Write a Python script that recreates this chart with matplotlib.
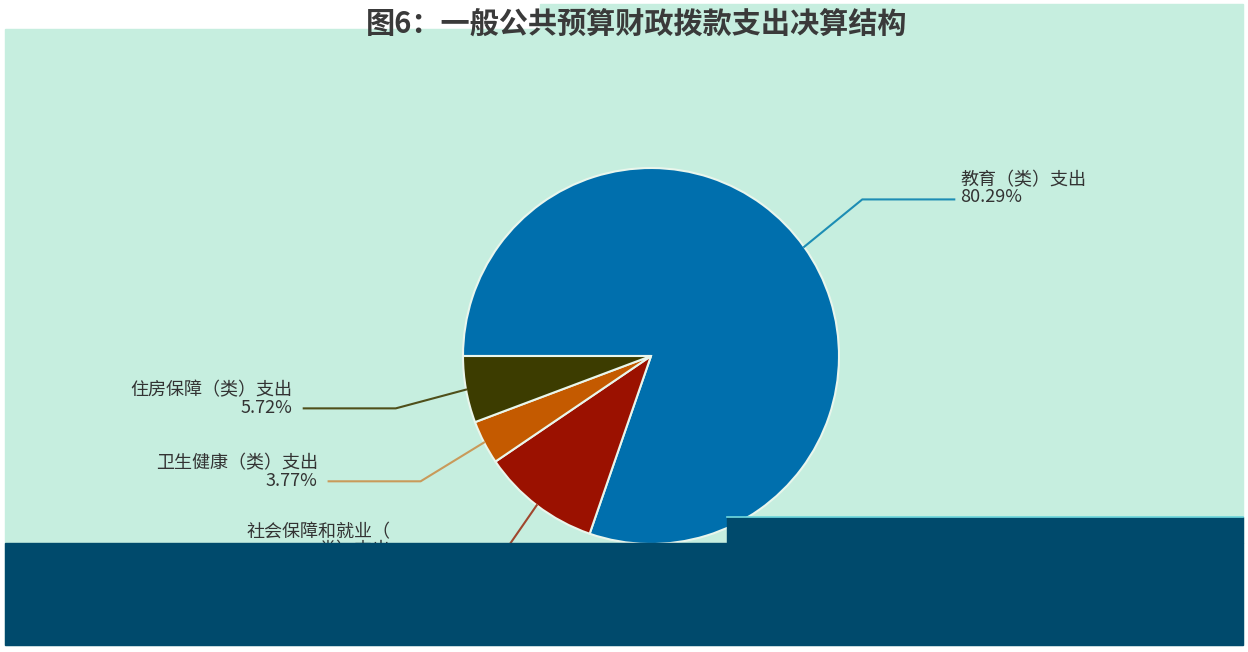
import numpy as np
import matplotlib
matplotlib.use("Agg")
import matplotlib.pyplot as plt
from matplotlib.patches import Rectangle

plt.rcParams['font.family'] = ['Noto Sans CJK SC', 'DejaVu Sans']

# data (percent of total)
labels = ['教育（类）支出', '社会保障和就业（\n类）支出', '卫生健康（类）支出', '住房保障（类）支出']
values = [80.29, 10.22, 3.77, 5.72]
colors = ['#006fad', '#9b1100', '#c45a00', '#3c3c00']
line_colors = ['#1d8db4', '#a0472e', '#c99a5a', '#4f4f1a']
title = '图6：一般公共预算财政拨款支出决算结构'

W, H = 1248, 652
BG = '#c6eedf'


def main():
    fig = plt.figure(figsize=(W / 100, H / 100), dpi=100, facecolor='white')
    ax = fig.add_axes([0, 0, 1, 1])

    # mint canvas
    ax.add_patch(Rectangle((5, H - 645), 1238, 616, color=BG, zorder=0))
    ax.add_patch(Rectangle((540, H - 29), 703, 25, color=BG, zorder=0))

    cx, cy, R = 651, H - 356, 188
    wedges, _ = ax.pie(values, colors=colors, startangle=180, counterclock=False,
                       center=(cx, cy), radius=R,
                       wedgeprops=dict(edgecolor='#e9f6ec', linewidth=1.5))

    for w, lab, val, lc in zip(wedges, labels, values, line_colors):
        th = np.deg2rad((w.theta1 + w.theta2) / 2)
        c, s = np.cos(th), np.sin(th)
        side = 1 if c >= 0 else -1
        p0 = (cx + R * c, cy + R * s)
        p1 = (cx + 1.38 * R * c, cy + 1.38 * R * s + 6 * side)
        p2 = (p1[0] + side * 92, p1[1])
        ax.plot([p0[0], p1[0], p2[0]], [p0[1], p1[1], p2[1]],
                color=lc, lw=1.5, zorder=3)
        txt = f'{lab}\n{val:.2f}%'
        nlines = txt.count('\n') + 1
        if side > 0:
            ax.text(p2[0] + 6, p2[1] + 11 + 9 * (nlines - 2), txt,
                    ha='left', va='center', fontsize=13, color='#333333',
                    linespacing=0.95, zorder=4)
        else:
            ax.text(p2[0] - 11, p2[1] + 9 * (nlines - 1), txt,
                    ha='right', va='center', fontsize=13, color='#333333',
                    linespacing=1.0, multialignment='right', zorder=4)

    # dark band across the lower part of the picture
    band = '#004a6c'
    ax.add_patch(Rectangle((5, H - 645), 1238, 102, color=band, zorder=10))
    ax.add_patch(Rectangle((727, H - 543), 516, 26, color=band, zorder=10))
    ax.plot([727, 1243], [H - 517, H - 517], color='#72dbe0', lw=1.2, zorder=11)

    ax.set_xlim(0, W)
    ax.set_ylim(0, H)
    ax.set_aspect('equal')
    ax.axis('off')

    fig.text(637 / W, 1 - 24 / H, title, ha='center', va='center',
             fontsize=21, fontweight='bold', color='#3a3a3a')

    fig.savefig('out.png', dpi=100, facecolor='white')


if __name__ == "__main__":
    main()
